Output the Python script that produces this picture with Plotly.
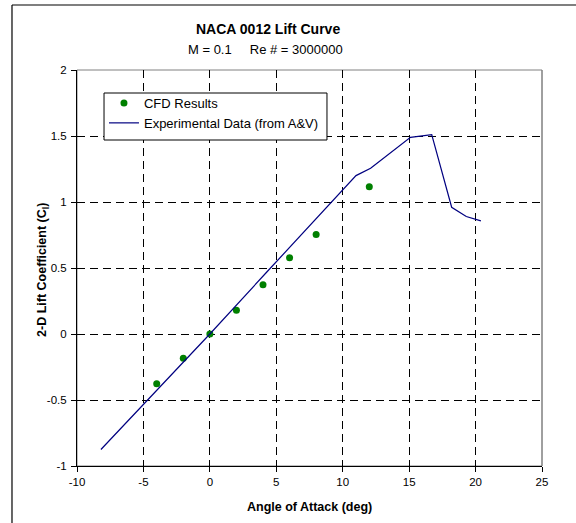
import plotly.graph_objects as go

# CFD results
cfd_alpha = [-4, -2, 0, 2, 4, 6, 8, 12]
cfd_cl = [-0.376, -0.184, 0.0, 0.18, 0.373, 0.578, 0.753, 1.115]

# Experimental data (Abbott & von Doenhoff)
exp_alpha = [-8.2, -4.1, 0.0, 4.2, 8.1, 11.0, 12.1, 15.1, 16.7, 18.2, 19.3, 20.4]
exp_cl = [-0.875, -0.44, 0.0, 0.46, 0.88, 1.2, 1.255, 1.49, 1.51, 0.96, 0.89, 0.857]

x_ticks = [-10, -5, 0, 5, 10, 15, 20, 25]
y_ticks = [-1, -0.5, 0, 0.5, 1, 1.5, 2]

FONT = "Arial, Liberation Sans, sans-serif"

fig = go.Figure()
fig.add_trace(go.Scatter(
    x=cfd_alpha, y=cfd_cl, mode="markers", name="CFD Results",
    marker=dict(color="#008000", size=7, line=dict(width=0)),
))
fig.add_trace(go.Scatter(
    x=exp_alpha, y=exp_cl, mode="lines", name="Experimental Data (from A&V)",
    line=dict(color="#000080", width=1.2),
))

axis_common = dict(
    showgrid=True, gridcolor="black", gridwidth=1, griddash="8px,5px",
    zeroline=False, showline=True, linecolor="black", linewidth=1,
    ticks="outside", ticklen=5, tickcolor="black", tickwidth=1,
    tickfont=dict(family=FONT, size=11.5, color="black"),
    automargin=False,
)

fig.update_xaxes(range=[-10, 25], tickvals=x_ticks, ticktext=[str(v) for v in x_ticks],
                 **axis_common)
fig.update_yaxes(range=[-1, 2], tickvals=y_ticks, ticktext=[str(v) for v in y_ticks],
                 ticklabelstandoff=2, **axis_common)

shapes = [
    # gray plot-area frame
    dict(type="rect", xref="paper", yref="paper", x0=0, y0=0, x1=1, y1=1,
         line=dict(color="#808080", width=1), layer="below"),
    dict(type="line", xref="paper", yref="paper", x0=1, y0=0, x1=1, y1=1,
         line=dict(color="#808080", width=1), layer="above"),
    # legend box
    dict(type="rect", xref="paper", yref="paper", x0=0.0581, y0=0.8232, x1=0.5376, y1=0.9419,
         line=dict(color="black", width=1), fillcolor="white", layer="above"),
    # outer chart frame (partially visible)
    dict(type="line", xref="paper", yref="paper", x0=-0.1398, y0=-0.2, x1=-0.1398, y1=1.1641,
         line=dict(color="black", width=1.2)),
    dict(type="line", xref="paper", yref="paper", x0=-0.1398, y0=1.1641, x1=1.2, y1=1.1641,
         line=dict(color="black", width=1.2)),
]

annotations = [
    dict(text="<b>NACA 0012 Lift Curve</b>", xref="paper", yref="paper",
         x=0.410, y=1.1035, xanchor="center", yanchor="middle", showarrow=False,
         font=dict(family=FONT, size=14, color="black")),
    dict(text="M = 0.1\u00a0\u00a0\u00a0\u00a0\u00a0Re # = 3000000", xref="paper", yref="paper",
         x=0.406, y=1.053, xanchor="center", yanchor="middle", showarrow=False,
         font=dict(family=FONT, size=13, color="black")),
    dict(text="<b>Angle of Attack (deg)</b>", xref="paper", yref="paper",
         x=0.5, y=-0.1035, xanchor="center", yanchor="middle", showarrow=False,
         font=dict(family=FONT, size=12.5, color="black")),
    dict(text="<b>2-D Lift Coefficient (C<sub>l</sub>)</b>", xref="paper", yref="paper",
         x=-0.0731, y=0.495, xanchor="center", yanchor="middle", showarrow=False,
         textangle=-90, font=dict(family=FONT, size=12.5, color="black")),
]

fig.update_layout(
    width=576, height=523,
    margin=dict(l=77, r=34, t=70, b=57),
    paper_bgcolor="white", plot_bgcolor="white",
    font=dict(family=FONT, size=12, color="black"),
    showlegend=True,
    legend=dict(x=0.058, y=0.9545, xanchor="left", yanchor="top",
                bgcolor="rgba(0,0,0,0)", borderwidth=0,
                font=dict(family=FONT, size=13, color="black"),
                tracegroupgap=0),
    shapes=shapes,
    annotations=annotations,
)

# remove the browser's default 8px page margin so the figure fills the window
fig.write_html("out.html", config={"displayModeBar": False},
               post_script="document.body.style.margin='0';")
